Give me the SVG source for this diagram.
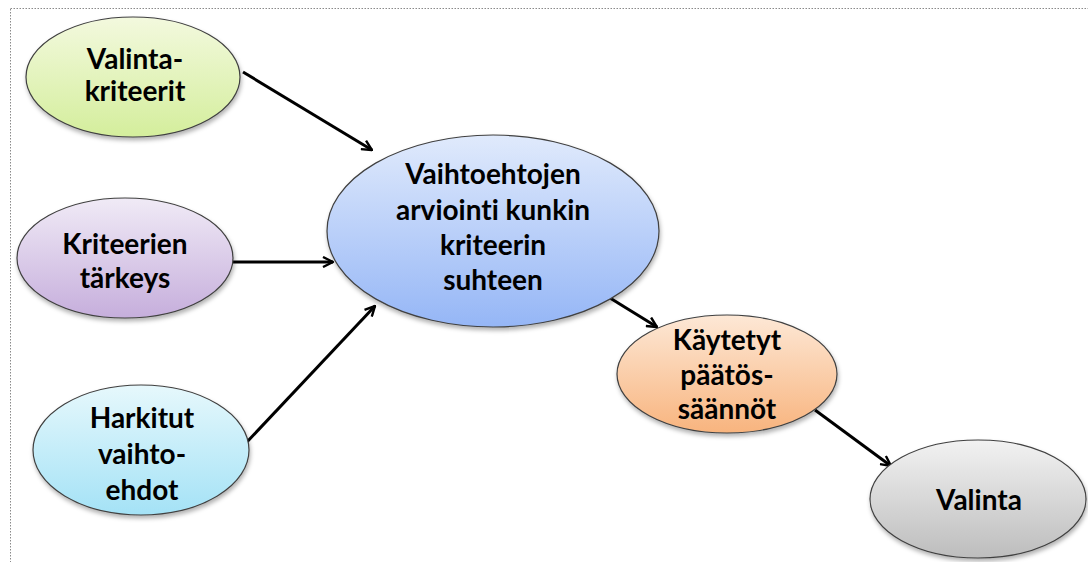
<svg xmlns="http://www.w3.org/2000/svg" width="1088" height="562" viewBox="0 0 1088 562">
<defs>
<linearGradient id="gGreen" x1="0" y1="0" x2="0" y2="1"><stop offset="0" stop-color="#f3f9de"/><stop offset="1" stop-color="#d4ee9c"/></linearGradient>
<linearGradient id="gPurple" x1="0" y1="0" x2="0" y2="1"><stop offset="0" stop-color="#f0eaf6"/><stop offset="1" stop-color="#c6aedc"/></linearGradient>
<linearGradient id="gCyan" x1="0" y1="0" x2="0" y2="1"><stop offset="0" stop-color="#e6f8fc"/><stop offset="1" stop-color="#a4e2f6"/></linearGradient>
<linearGradient id="gBlue" x1="0" y1="0" x2="0" y2="1"><stop offset="0" stop-color="#e0eafc"/><stop offset="1" stop-color="#95b6f6"/></linearGradient>
<linearGradient id="gOrange" x1="0" y1="0" x2="0" y2="1"><stop offset="0" stop-color="#fde8d6"/><stop offset="1" stop-color="#f8b47e"/></linearGradient>
<linearGradient id="gGrey" x1="0" y1="0" x2="0" y2="1"><stop offset="0" stop-color="#f2f2f2"/><stop offset="1" stop-color="#bdbdbd"/></linearGradient>
<filter id="sh" x="-10%" y="-10%" width="120%" height="125%"><feDropShadow dx="1" dy="3" stdDeviation="2" flood-color="#000" flood-opacity="0.3"/></filter>
<marker id="arr" viewBox="0 0 12 12" refX="11" refY="6" markerWidth="12" markerHeight="12" markerUnits="userSpaceOnUse" orient="auto">
<path d="M1,1 L11,6 L1,11" fill="none" stroke="#000" stroke-width="2.4"/>
</marker>
</defs>
<style>
.node ellipse{stroke:#404040;stroke-width:1.2;filter:url(#sh)}
.node text{font-family:Lato,"Open Sans","Liberation Sans",sans-serif;font-weight:bold;font-size:28px;fill:#000;text-anchor:middle;font-variant-ligatures:none}
.conn line{stroke:#000;stroke-width:3;marker-end:url(#arr)}
</style>
<rect x="10.5" y="8.5" width="1090" height="570" fill="#fff" stroke="#8a8a8a" stroke-width="1" stroke-dasharray="1.5,1.5"/>
<g class="conn" id="connectors">
<line x1="243" y1="72" x2="372" y2="150"/>
<line x1="233" y1="262" x2="333" y2="262"/>
<line x1="246" y1="443" x2="375" y2="306"/>
<line x1="610" y1="298" x2="657" y2="327"/>
<line x1="815" y1="410" x2="891" y2="466"/>
</g>
<g class="node" id="valintakriteerit">
<ellipse cx="133" cy="77" rx="107" ry="60" fill="url(#gGreen)"/>
<text x="135" y="69">Valinta-</text><text x="135" y="101">kriteerit</text>
</g>
<g class="node" id="kriteerientarkeys">
<ellipse cx="125" cy="258" rx="108" ry="60" fill="url(#gPurple)"/>
<text x="125" y="254">Kriteerien</text><text x="125" y="288">tärkeys</text>
</g>
<g class="node" id="harkitut">
<ellipse cx="141" cy="450" rx="108" ry="65" fill="url(#gCyan)"/>
<text x="142" y="428">Harkitut</text><text x="142" y="464">vaihto-</text><text x="142" y="500">ehdot</text>
</g>
<g class="node" id="arviointi">
<ellipse cx="493" cy="231" rx="166" ry="96" fill="url(#gBlue)"/>
<text x="493" y="184">Vaihtoehtojen</text><text x="493" y="220">arviointi kunkin</text><text x="493" y="255">kriteerin</text><text x="493" y="290">suhteen</text>
</g>
<g class="node" id="paatossaannot">
<ellipse cx="727" cy="374" rx="110" ry="59" fill="url(#gOrange)"/>
<text x="727" y="350">Käytetyt</text><text x="727" y="385">päätös-</text><text x="727" y="419">säännöt</text>
</g>
<g class="node" id="valinta">
<ellipse cx="978" cy="499" rx="108" ry="59" fill="url(#gGrey)"/>
<text x="979" y="510">Valinta</text>
</g>
</svg>
